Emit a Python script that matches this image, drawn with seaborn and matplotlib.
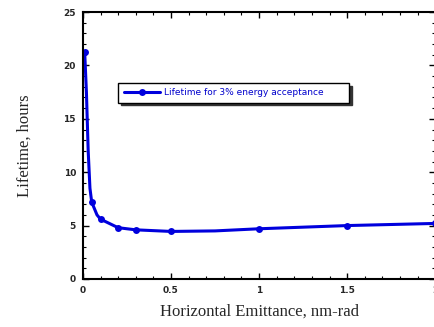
import matplotlib
matplotlib.use("Agg")
import matplotlib.pyplot as plt
import seaborn as sns
import pandas as pd
from matplotlib.ticker import MultipleLocator

emittance = [0.01, 0.02, 0.03, 0.04, 0.05, 0.06, 0.07, 0.08, 0.1, 0.125, 0.15, 0.2, 0.3, 0.5, 0.75, 1.0, 1.25, 1.5, 1.75, 2.0]
lifetime = [21.3, 17.5, 12.0, 8.5, 7.2, 6.8, 6.4, 6.0, 5.6, 5.4, 5.2, 4.8, 4.6, 4.45, 4.5, 4.7, 4.85, 5.0, 5.1, 5.2]
marker_idx = [0, 4, 8, 11, 12, 13, 15, 17, 19]
series_label = "Lifetime for 3% energy acceptance"

df = pd.DataFrame({"x": emittance, "y": lifetime})

sns.set_style("white")
fig = plt.figure(figsize=(4.34, 3.27), dpi=100)
ax = fig.add_axes([0.191, 0.147, 0.812, 0.816])

sns.lineplot(data=df, x="x", y="y", ax=ax, color="#0000dd", linewidth=2.2,
             marker="o", markersize=5, markevery=marker_idx, markeredgewidth=0,
             label=series_label)

ax.set_xlim(0, 2)
ax.set_ylim(0, 25)
ax.xaxis.set_minor_locator(MultipleLocator(0.1))
ax.yaxis.set_major_locator(MultipleLocator(5))
ax.yaxis.set_minor_locator(MultipleLocator(1))
ax.set_xticks([0, 0.5, 1, 1.5, 2])
ax.set_xticklabels(["0", "0.5", "1", "1.5", "2"])
ax.tick_params(which="both", direction="in", top=True, right=True, left=True, bottom=True, color="black")
ax.tick_params(which="major", length=4, width=1, labelsize=6.5, pad=5)
ax.tick_params(which="minor", length=2, width=0.8)
for lab in ax.get_xticklabels() + ax.get_yticklabels():
    lab.set_fontweight("bold")
    lab.set_family("DejaVu Sans")
for s in ax.spines.values():
    s.set_color("black")
    s.set_linewidth(1.5)

ax.set_xlabel("Horizontal Emittance, nm-rad", family="Liberation Serif", fontsize=12, labelpad=6)
ax.set_ylabel("Lifetime, hours", family="Liberation Serif", fontsize=12, labelpad=22)

leg = ax.legend(loc="upper left", bbox_to_anchor=(0.10, 0.735), frameon=True, fancybox=False,
                shadow={"ox": 2, "oy": -2, "color": "#333333", "alpha": 1.0},
                fontsize=6.5, handlelength=4.0, borderpad=0.6, borderaxespad=0,
                handletextpad=0.5)
leg.get_frame().set_edgecolor("black")
leg.get_frame().set_linewidth(1.0)
for t in leg.get_texts():
    t.set_color("#0000cc")
    t.set_text(series_label + "       ")

fig.savefig("out.png", dpi=100)
